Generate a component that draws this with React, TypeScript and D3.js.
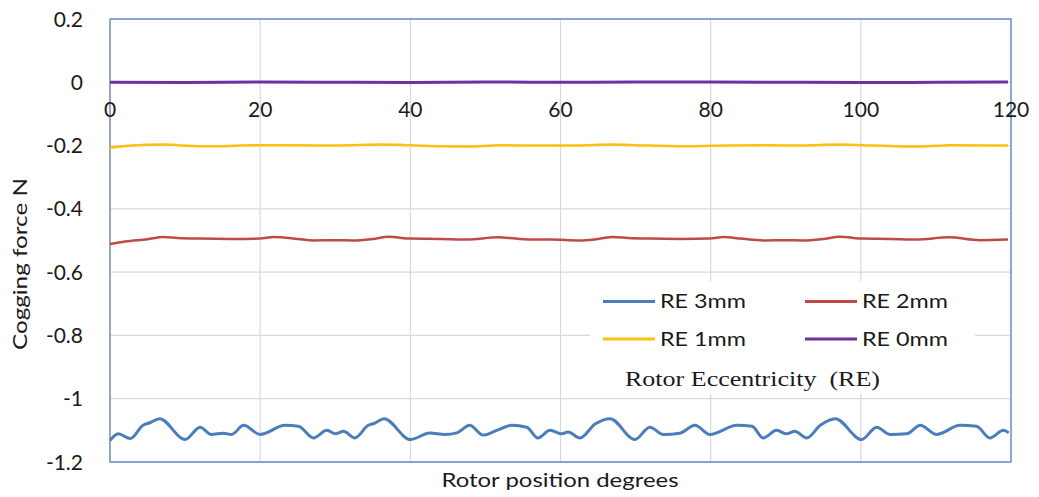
import * as d3 from 'd3';

const W = 1039;
const H = 497;
const margin = { top: 19, right: 28, bottom: 35, left: 110 };

const xTicks = [0, 20, 40, 60, 80, 100, 120];
const yTicks = [0.2, 0, -0.2, -0.4, -0.6, -0.8, -1, -1.2];
const yTickLabels = ['0.2', '0', '-0.2', '-0.4', '-0.6', '-0.8', '-1', '-1.2'];

// RE 3mm
const blueDeg = [0, 1.1, 2.7, 4.4, 5.3, 6.6, 10.0, 12.0, 13.5, 15.1, 16.2, 17.8, 20.0, 23.3, 25.1, 27.1, 28.9, 30.0,
  31.1, 32.6, 34.4, 35.3, 36.5, 40.0, 42.6, 44.6, 46.2, 47.9, 49.7, 51.5, 53.5, 55.5, 57.0, 58.6, 60.2, 61.0,
  62.6, 64.6, 66.6, 69.9, 71.9, 73.7, 75.9, 77.9, 79.9, 83.5, 85.5, 87.0, 88.8, 90.1, 91.2, 92.8, 94.6, 96.6,
  100.1, 102.1, 103.9, 106.1, 107.9, 110.1, 113.2, 115.4, 117.2, 119.0, 119.7];
const blueVal = [-1.132, -1.111, -1.126, -1.084, -1.076, -1.063, -1.129, -1.090, -1.113, -1.109, -1.113, -1.084,
  -1.113, -1.084, -1.087, -1.124, -1.100, -1.111, -1.103, -1.124, -1.084, -1.077, -1.063, -1.129,
  -1.108, -1.113, -1.108, -1.084, -1.115, -1.100, -1.084, -1.090, -1.124, -1.100, -1.111, -1.105,
  -1.124, -1.080, -1.063, -1.129, -1.090, -1.113, -1.109, -1.084, -1.113, -1.084, -1.087, -1.124,
  -1.100, -1.111, -1.103, -1.124, -1.084, -1.063, -1.129, -1.090, -1.113, -1.111, -1.084, -1.113,
  -1.084, -1.087, -1.124, -1.100, -1.108];

// RE 2mm
const redDeg = [0, 2, 5, 7.1, 9, 12, 16, 20, 21.8, 25, 27.1, 30, 32.4, 35, 37.1, 40, 44, 47.5, 51.7, 54, 56.4,
  58.6, 62.6, 65, 67, 69, 71.9, 76, 79.9, 81.7, 84, 87, 90, 92.3, 95, 97.2, 100.3, 104, 107.4, 111.7, 115.9, 119.6];
const redVal = [-0.511, -0.503, -0.496, -0.489, -0.492, -0.494, -0.495, -0.494, -0.489, -0.495, -0.500, -0.499,
  -0.500, -0.495, -0.488, -0.494, -0.495, -0.497, -0.490, -0.494, -0.497, -0.497, -0.500, -0.495, -0.489,
  -0.492, -0.494, -0.495, -0.494, -0.489, -0.494, -0.500, -0.499, -0.500, -0.495, -0.488, -0.494, -0.495,
  -0.497, -0.490, -0.499, -0.497];

// RE 1mm
const yellowDeg = [0, 3, 7.1, 12, 16, 20, 25, 30, 36.4, 40, 44, 47.5, 52, 58, 62, 67, 72, 77.7, 82, 88, 92, 97.2,
  102, 107, 112, 119.6];
const yellowVal = [-0.207, -0.200, -0.197, -0.202, -0.201, -0.199, -0.199, -0.200, -0.197, -0.199, -0.202, -0.203,
  -0.199, -0.200, -0.200, -0.197, -0.200, -0.202, -0.200, -0.199, -0.200, -0.197, -0.200, -0.203, -0.199, -0.200];

// RE 0mm
const purpleDeg = [0, 10, 20, 30, 40, 50, 60, 70, 80, 90, 100, 110, 119.6];
const purpleVal = [0, -0.001, 0.001, 0, -0.001, 0.001, 0, 0.001, 0.001, 0, -0.001, 0, 0.001];

const series = [
  { name: 'RE 3mm', deg: blueDeg, val: blueVal, color: '#4a7ebb', width: 3 },
  { name: 'RE 2mm', deg: redDeg, val: redVal, color: '#be4b48', width: 2.5 },
  { name: 'RE 1mm', deg: yellowDeg, val: yellowVal, color: '#fdc010', width: 2.5 },
  { name: 'RE 0mm', deg: purpleDeg, val: purpleVal, color: '#7030a0', width: 3 },
];

const App = () => {
  const iw = W - margin.left - margin.right;
  const ih = H - margin.top - margin.bottom;

  const x = d3.scaleLinear().domain([0, 120]).range([0, iw]);
  const y = d3.scaleLinear().domain([-1.2, 0.2]).range([ih, 0]);

  const line = d3.line<[number, number]>()
    .x((d) => x(d[0]))
    .y((d) => y(d[1]))
    .curve(d3.curveMonotoneX);

  const font = 'Lato, "Open Sans", sans-serif';

  // legend layout
  const lg = { x: 590, y: 281, w: 385, h: 113 };
  const legendPos = [
    { lx: 603, ly: 301.5 },
    { lx: 805, ly: 301.5 },
    { lx: 603, ly: 339 },
    { lx: 805, ly: 339 },
  ];

  return (
    <div style={{ position: 'absolute', left: 0, top: 0 }}>
      <svg width={W} height={H} style={{ display: 'block', background: '#fff' }}>
        <g transform={`translate(${margin.left},${margin.top})`}>
          {yTicks.map((t) => (
            <line key={'gy' + t} x1={0} x2={iw} y1={y(t)} y2={y(t)} stroke="#d9d9d9" strokeWidth={1.2} />
          ))}
          {xTicks.slice(1, -1).map((t) => (
            <line key={'gx' + t} x1={x(t)} x2={x(t)} y1={0} y2={ih} stroke="#d9d9d9" strokeWidth={1.2} />
          ))}
          <rect x={0} y={0} width={iw} height={ih} fill="none" stroke="#5f8fcb" strokeWidth={1.5} />
          <line x1={0} x2={0} y1={0} y2={ih} stroke="#a6a6a6" strokeWidth={1.2} />

          {yTicks.map((t, i) => (
            <text key={'ty' + t} x={-27} y={y(t)} dy="0.36em" textAnchor="end" fontFamily={font} fontSize={21} fill="#1a1a1a">
              {yTickLabels[i]}
            </text>
          ))}
          {xTicks.map((t) => (
            <text key={'tx' + t} x={x(t)} y={y(0) + 35} textAnchor="middle" fontFamily={font} fontSize={21} fill="#1a1a1a">
              {t}
            </text>
          ))}

          {series.map((s) => (
            <path
              key={s.name}
              d={line(s.deg.map((d, i) => [d, s.val[i]] as [number, number])) || ''}
              fill="none"
              stroke={s.color}
              strokeWidth={s.width}
              strokeLinejoin="round"
            />
          ))}
        </g>

        <rect x={lg.x} y={lg.y} width={lg.w} height={lg.h} fill="#fff" />
        {series.map((s, i) => (
          <g key={'lg' + s.name}>
            <line x1={legendPos[i].lx} x2={legendPos[i].lx + 52} y1={legendPos[i].ly} y2={legendPos[i].ly} stroke={s.color} strokeWidth={3} />
            <text x={legendPos[i].lx + 57} y={legendPos[i].ly} dy="0.36em" fontFamily={font} fontSize={19}
              fill="#1a1a1a" textLength={86} lengthAdjust="spacingAndGlyphs">
              {s.name}
            </text>
          </g>
        ))}
        <text x={625} y={386} fontFamily='"Liberation Serif", "DejaVu Serif", serif' fontSize={21} fill="#1a1a1a"
          xmlSpace="preserve" textLength={255} lengthAdjust="spacingAndGlyphs">
          Rotor Eccentricity  (RE)
        </text>

        <text x={560} y={487} textAnchor="middle" fontFamily={font} fontSize={20} fill="#1a1a1a"
          textLength={237} lengthAdjust="spacingAndGlyphs">
          Rotor position degrees
        </text>
        <text transform="translate(27,264) rotate(-90)" textAnchor="middle" fontFamily={font} fontSize={20} fill="#1a1a1a"
          textLength={172} lengthAdjust="spacingAndGlyphs">
          Cogging force N
        </text>
      </svg>
    </div>
  );
};

export default App;
